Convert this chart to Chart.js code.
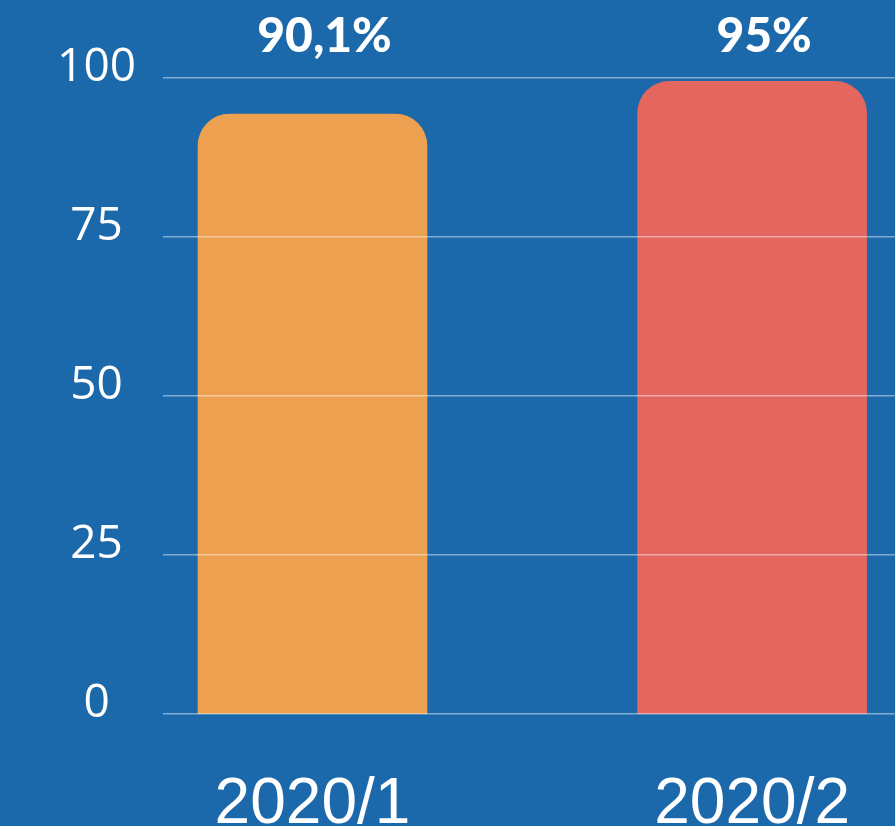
<!DOCTYPE html>
<html>
<head>
<meta charset="utf-8">
<script src="https://cdn.jsdelivr.net/npm/chart.js@4"></script>
<style>
  html, body { margin: 0; padding: 0; background: #1b69aa; }
  #wrap { width: 895px; height: 826px; }
</style>
</head>
<body>
<div id="wrap"><canvas id="chart"></canvas></div>
<script>
// data
const categories = ['2020/1', '2020/2'];
const values = [90.1, 95];
const barColors = ['#eda050', '#e3665f'];
const yTickValues = [0, 25, 50, 75, 100];

// percentage labels above the bars, comma as decimal mark
const valueLabels = {
    id: 'valueLabels',
    afterDatasetsDraw(chart) {
        const ctx = chart.ctx;
        const meta = chart.getDatasetMeta(0);
        ctx.save();
        ctx.fillStyle = '#ffffff';
        ctx.font = "900 48px Lato, 'DejaVu Sans', sans-serif";
        ctx.textAlign = 'center';
        ctx.textBaseline = 'middle';
        meta.data.forEach((bar, i) => {
            const txt = String(values[i]).replace('.', ',') + '%';
            ctx.fillText(txt, bar.x + 12, 37);
        });
        ctx.restore();
    }
};

const background = {
    id: 'background',
    beforeDraw(chart) {
        const ctx = chart.ctx;
        ctx.save();
        ctx.fillStyle = '#1b69aa';
        ctx.fillRect(0, 0, chart.width, chart.height);
        ctx.restore();
    }
};

new Chart(document.getElementById('chart'), {
    type: 'bar',
    data: {
        datasets: [{
            data: values.map((v, i) => ({ x: i + 1, y: v })),
            backgroundColor: barColors,
            barThickness: 229,
            borderRadius: { topLeft: 32, topRight: 32, bottomLeft: 0, bottomRight: 0 },
            borderSkipped: false,
            yAxisID: 'yBar'
        }]
    },
    options: {
        responsive: true,
        maintainAspectRatio: false,
        animation: false,
        layout: { padding: { top: 78, right: 0, left: 0, bottom: 0 } },
        plugins: {
            legend: { display: false },
            tooltip: { enabled: false }
        },
        scales: {
            x: {
                type: 'linear',
                min: 0.66,
                max: 2.324,
                offset: false,
                grid: { display: false, offset: false },
                border: { display: false },
                afterBuildTicks: (axis) => { axis.ticks = categories.map((c, i) => ({ value: i + 1 })); },
                afterFit: (axis) => { axis.height = 112; },
                ticks: {
                    color: '#ffffff',
                    padding: 45,
                    maxRotation: 0,
                    font: { family: "'Liberation Sans', Arial, sans-serif", size: 64 },
                    callback: (v) => categories[v - 1]
                }
            },
            y: {
                min: 0,
                max: 100,
                position: 'left',
                afterBuildTicks: (axis) => { axis.ticks = yTickValues.map(v => ({ value: v })); },
                afterFit: (axis) => { axis.width = 163; },
                border: { display: false },
                grid: {
                    color: 'rgba(255,255,255,0.45)',
                    lineWidth: 1.5,
                    drawTicks: false,
                    z: 1
                },
                ticks: {
                    color: '#ffffff',
                    crossAlign: 'center',
                    padding: 27,
                    labelOffset: -10,
                    font: { family: "'Open Sans', sans-serif", size: 46 }
                }
            },
            yBar: {
                display: false,
                min: 0,
                max: 95.5
            }
        }
    },
    plugins: [background, valueLabels]
});
</script>
</body>
</html>
